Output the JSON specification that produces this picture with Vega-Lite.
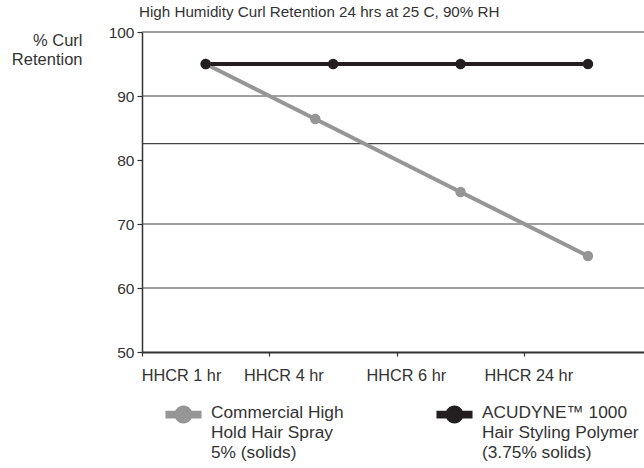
{
  "$schema": "https://vega.github.io/schema/vega-lite/v6.json",
  "width": 502,
  "height": 320,
  "autosize": {"type": "none"},
  "padding": {"left": 142, "top": 32, "right": 0, "bottom": 116},
  "background": "white",
  "config": {
    "view": {"stroke": null},
    "font": "Liberation Sans",
    "axis": {"labelFont": "Liberation Sans", "titleFont": "Liberation Sans", "labelColor": "#333", "titleColor": "#333", "domainColor": "#333", "tickColor": "#333", "grid": false}
  },
  "title": {
    "text": "High Humidity Curl Retention 24 hrs at 25 C, 90% RH",
    "anchor": "start",
    "frame": "group",
    "fontSize": 15.2,
    "fontWeight": "normal",
    "font": "Liberation Sans",
    "color": "#333",
    "offset": 5,
    "dx": -3
  },
  "datasets": {
    "series": [
      {"product": "Commercial High Hold Hair Spray 5% (solids)", "step": 0.5, "retention": 95},
      {"product": "Commercial High Hold Hair Spray 5% (solids)", "step": 1.36, "retention": 86.4},
      {"product": "Commercial High Hold Hair Spray 5% (solids)", "step": 2.5, "retention": 75},
      {"product": "Commercial High Hold Hair Spray 5% (solids)", "step": 3.5, "retention": 65},
      {"product": "ACUDYNE™ 1000 Hair Styling Polymer (3.75% solids)", "step": 0.5, "retention": 95},
      {"product": "ACUDYNE™ 1000 Hair Styling Polymer (3.75% solids)", "step": 1.5, "retention": 95},
      {"product": "ACUDYNE™ 1000 Hair Styling Polymer (3.75% solids)", "step": 2.5, "retention": 95},
      {"product": "ACUDYNE™ 1000 Hair Styling Polymer (3.75% solids)", "step": 3.5, "retention": 95}
    ],
    "grid": [
      {"level": 100}, {"level": 90}, {"level": 82.56}, {"level": 70}, {"level": 60}
    ]
  },
  "layer": [
    {
      "data": {"name": "grid"},
      "mark": {"type": "rule", "color": "#444", "strokeWidth": 1.2},
      "encoding": {
        "y": {"field": "level", "type": "quantitative", "scale": {"domain": [50, 100], "nice": false, "zero": false},
          "axis": {
            "values": [50, 60, 70, 80, 90, 100],
            "tickSize": 5, "labelFontSize": 15.5, "labelPadding": 3, "domainWidth": 1.5, "tickWidth": 1.2,
            "title": ["% Curl", "Retention"], "titleAngle": 0, "titleAlign": "right", "titleBaseline": "top",
            "titleX": -60, "titleY": 0, "titleFontSize": 16.5, "titleFontWeight": "normal", "titleLineHeight": 19
          }
        }
      }
    },
    {
      "data": {"name": "series"},
      "mark": {"type": "line", "strokeWidth": 4},
      "encoding": {
        "x": {"field": "step", "type": "quantitative", "scale": {"domain": [0, 3.94], "nice": false, "zero": false},
          "axis": {
            "values": [0, 1, 2, 3], "tickSize": 4, "tickWidth": 1.2, "domainWidth": 2,
            "labelFontSize": 16.3, "labelPadding": 11, "labelFlush": false,
            "labelExpr": "datum.value == 0 ? 'HHCR 1 hr' : datum.value == 1 ? 'HHCR 4 hr' : datum.value == 2 ? 'HHCR 6 hr' : 'HHCR 24 hr'",
            "labelOffset": {"condition": [{"test": "datum.value == 0", "value": 39}, {"test": "datum.value == 1", "value": 14}, {"test": "datum.value == 2", "value": 9}], "value": 4},
            "title": null
          }
        },
        "y": {"field": "retention", "type": "quantitative"},
        "color": {"field": "product", "type": "nominal",
          "scale": {"domain": ["Commercial High Hold Hair Spray 5% (solids)", "ACUDYNE™ 1000 Hair Styling Polymer (3.75% solids)"], "range": ["#969696", "#231f20"]}}
      }
    },
    {
      "data": {"name": "series"},
      "mark": {"type": "point", "filled": true, "opacity": 1, "size": 110},
      "encoding": {
        "x": {"field": "step", "type": "quantitative"},
        "y": {"field": "retention", "type": "quantitative"},
        "color": {"field": "product", "type": "nominal",
          "legend": {
            "title": null, "orient": "none", "legendX": 23, "legendY": 364, "direction": "horizontal", "columns": 2,
            "padding": 0, "columnPadding": 92, "labelOffset": 9, "labelLimit": 300,
            "symbolType": "M-1,-0.22H1V0.22H-1Z M0.5,0A0.5,0.5 0 1 1 -0.5,0A0.5,0.5 0 1 1 0.5,0Z",
            "symbolSize": 1300, "symbolStrokeWidth": 0, "symbolOpacity": 1,
            "labelFontSize": 17.3, "labelColor": "#333", "labelFont": "Liberation Sans", "labelBaseline": "top",
            "labelExpr": "datum.value == 'ACUDYNE™ 1000 Hair Styling Polymer (3.75% solids)' ? ['ACUDYNE™ 1000', 'Hair Styling Polymer', '(3.75% solids)'] : ['Commercial High', 'Hold Hair Spray', '5% (solids)']",
            "encode": {
              "symbols": {"update": {"fill": {"scale": "color", "field": "value"}, "strokeWidth": {"value": 0}}},
              "labels": {"update": {"dy": {"value": -11}, "lineHeight": {"value": 20}}}
            }
          }
        }
      }
    }
  ]
}
